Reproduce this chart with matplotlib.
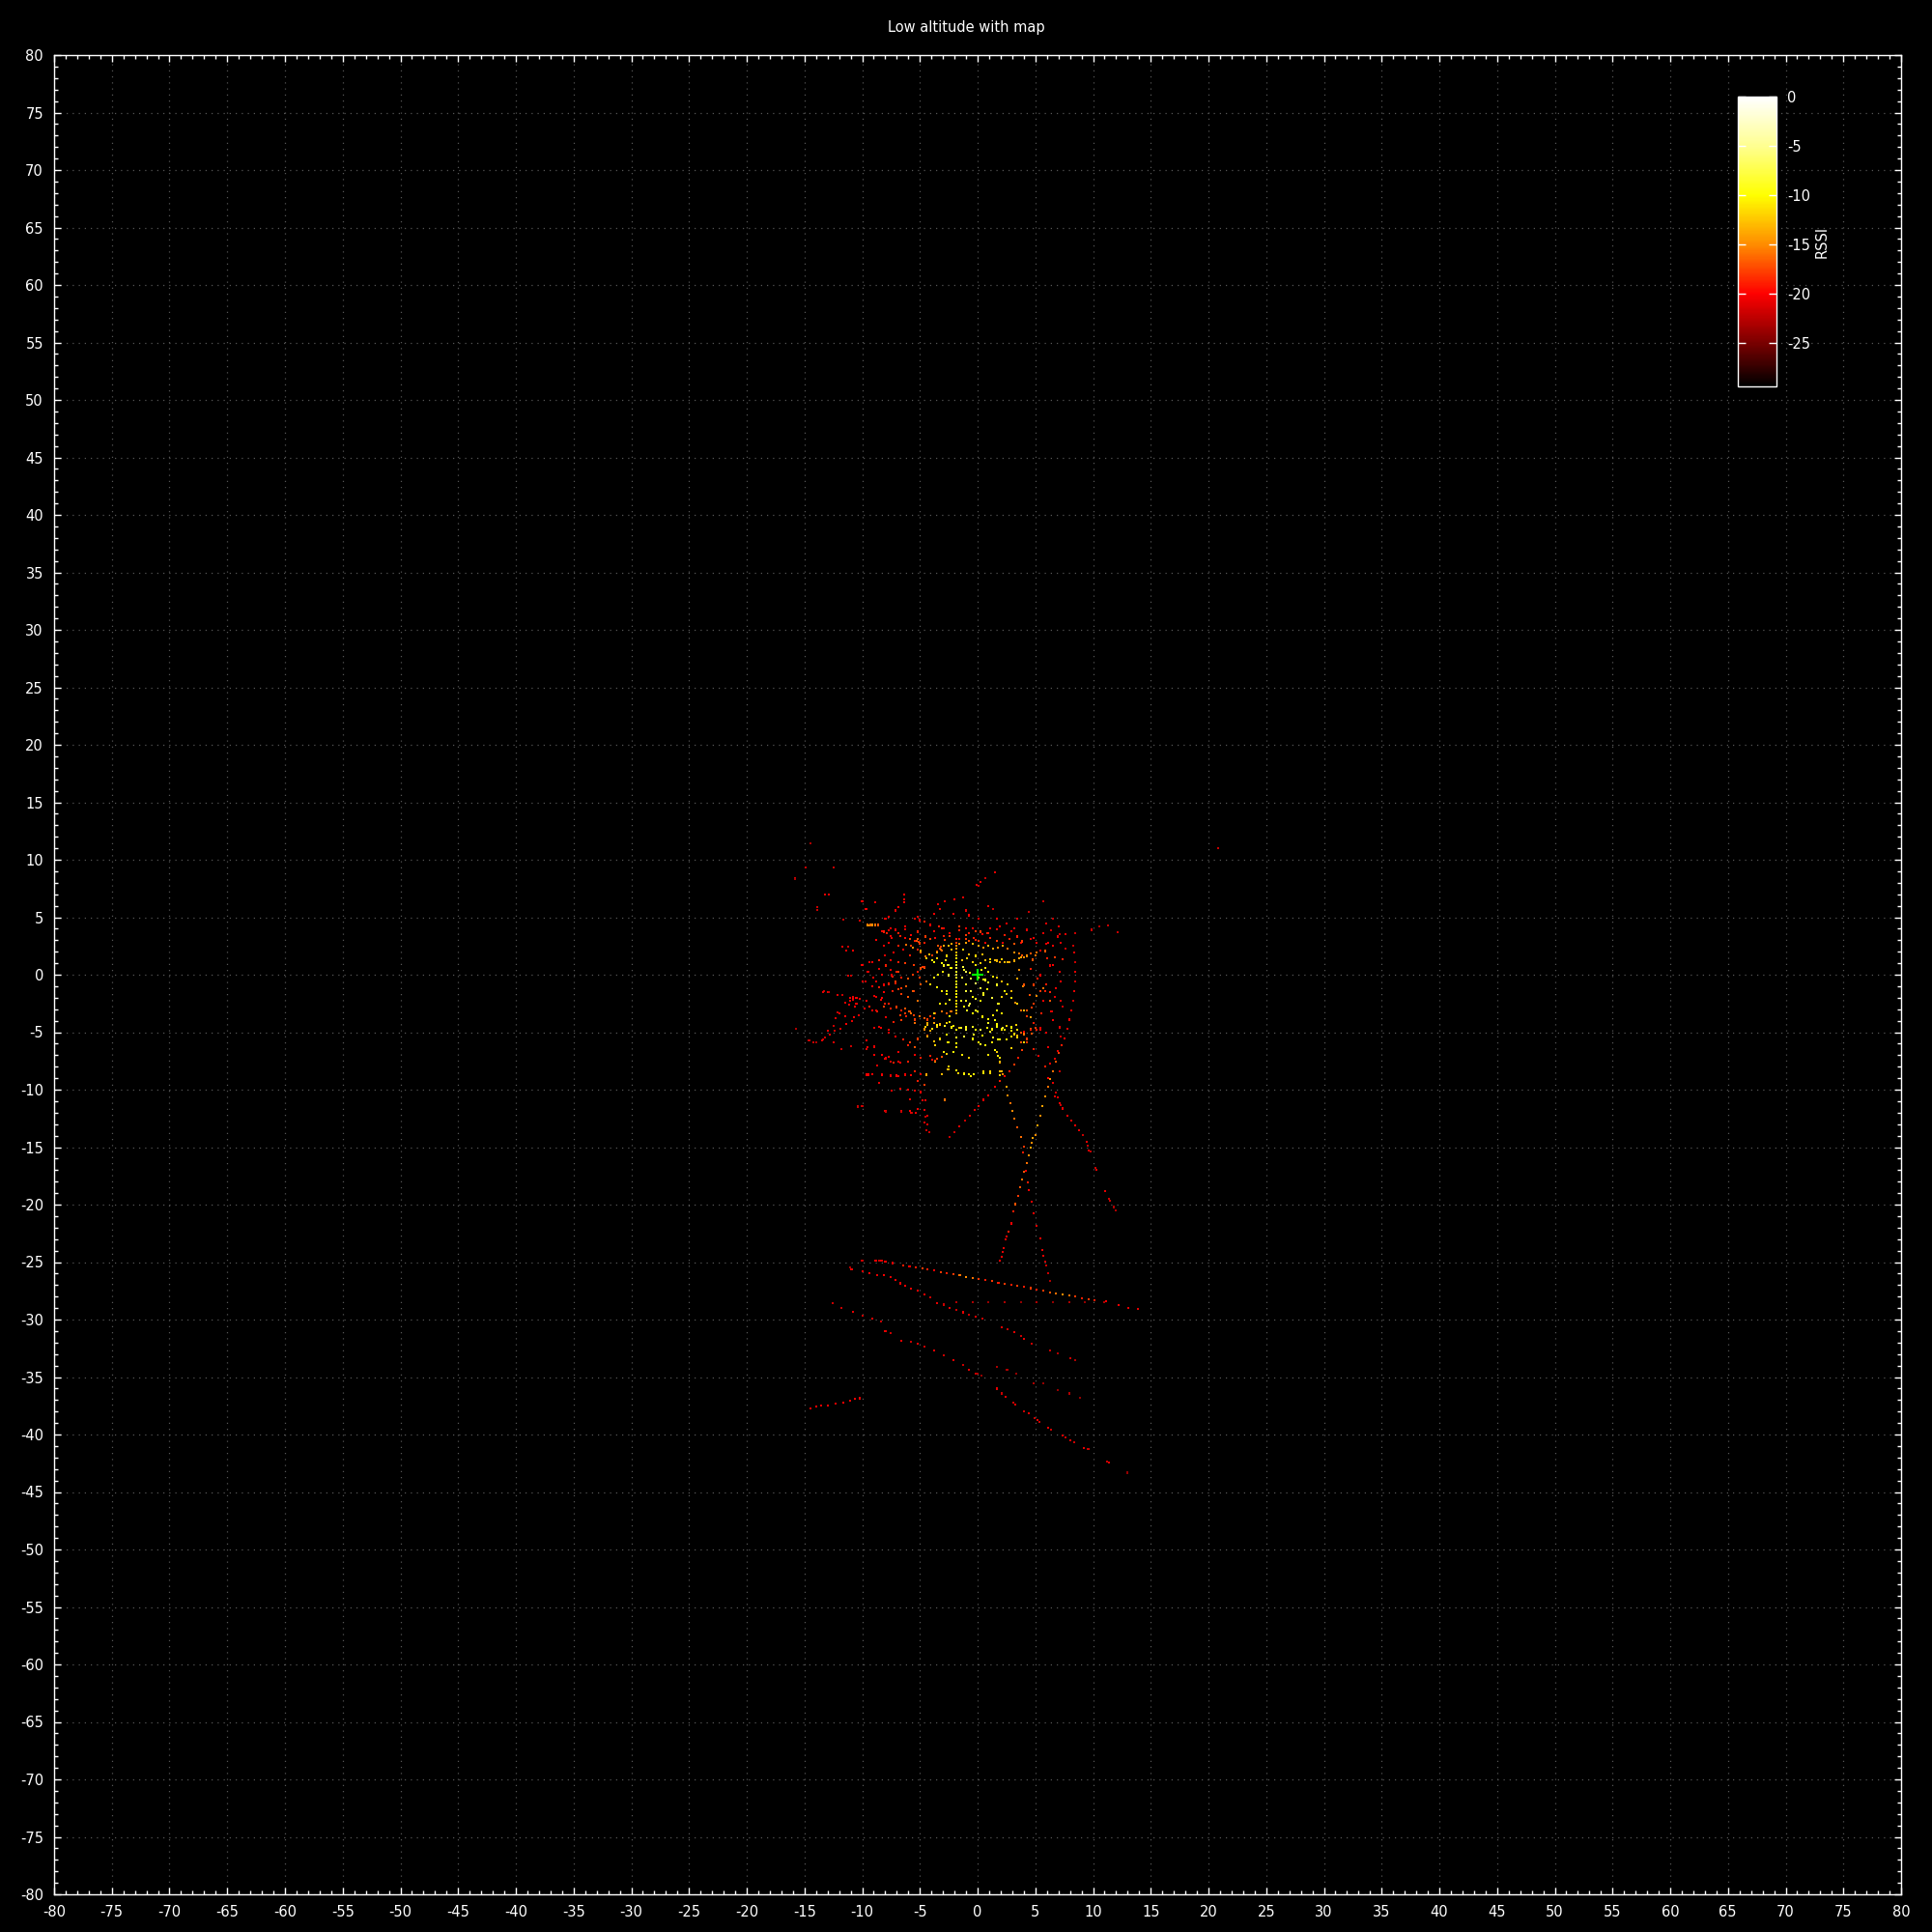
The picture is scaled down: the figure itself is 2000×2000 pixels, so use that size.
import numpy as np
import matplotlib.pyplot as plt
from matplotlib.colors import LinearSegmentedColormap
from matplotlib.ticker import MultipleLocator

plt.rcParams['axes.unicode_minus'] = False

# 采样点 (x, y, rssi)，按区域分组

# 团簇上方的零散点
top_pts = [
    (-15.8, 8.4, -22), (-14.5, 11.4, -23), (-14.9, 9.35, -22), (-12.5, 9.3, -22),
    (-15.8, 8.3, -23), (1.5, 8.9, -21), (0.7, 8.4, -22), (0.25, 8.1, -21),
    (-0.1, 7.8, -21), (0.05, 7.7, -22), (20.8, 11.0, -22),
    (-13.2, 7.0, -21), (-12.9, 7.0, -21), (-13.9, 5.6, -22), (-13.9, 5.85, -22),
    (-11.6, 4.8, -22), (-10.2, 4.7, -21), (-10.05, 6.4, -21), (-9.7, 5.7, -20),
]

# 团簇北侧红色带
north_pts = [
    (-8.27, 3.77, -20), (-7.85, 3.63, -19), (-7.57, 3.35, -20), (-6.73, 3.35, -19),
    (-6.31, 3.21, -20), (-5.89, 3.07, -18), (-5.47, 2.93, -19), (-5.06, 2.79, -17),
    (-4.64, 2.79, -19), (-4.08, 3.07, -18), (-3.66, 3.21, -20), (-2.96, 3.35, -19),
    (-2.40, 3.35, -18), (-1.57, 3.07, -20), (-1.01, 3.07, -18), (-0.73, 2.93, -17),
    (-0.31, 3.21, -19), (0.11, 2.93, -18), (0.67, 2.79, -20), (1.09, 3.21, -19),
    (1.65, 2.93, -18), (2.20, 2.79, -20), (2.76, 3.07, -19), (3.18, 2.65, -17),
    (3.74, 2.79, -20), (4.58, 3.07, -21), (5.13, 2.79, -20), (5.97, 2.65, -21),
    (6.53, 2.51, -20), (7.23, 2.79, -21), (7.65, 2.24, -22),
    (-7.57, 4.05, -20), (-7.15, 3.91, -21), (-6.31, 4.19, -20), (-5.47, 4.89, -21),
    (-5.06, 4.75, -20), (-4.64, 4.61, -19), (-4.08, 4.33, -20), (-3.38, 4.19, -19),
    (-2.96, 4.05, -20), (-1.57, 4.19, -18), (-1.01, 4.05, -20), (-0.73, 3.63, -19),
    (-0.17, 3.77, -18), (0.39, 3.49, -20), (0.81, 3.63, -19), (1.09, 4.05, -21),
    (1.92, 4.19, -20), (3.18, 4.05, -21), (4.30, 3.91, -22), (7.03, 4.19, -21),
    (7.09, 3.49, -22), (7.65, 3.49, -21), (8.49, 3.63, -22), (9.88, 3.91, -22),
    (10.58, 4.19, -23), (11.28, 4.25, -22), (12.1, 3.7, -22),
    (-9.52, 4.33, -16), (-9.30, 4.33, -16), (-9.10, 4.33, -15), (-8.88, 4.33, -16),
    (-8.60, 4.33, -17), (-9.5, 4.3, -15),
    (-9.66, 5.73, -20), (-7.15, 5.59, -21), (-6.87, 5.86, -20), (-5.19, 5.03, -21),
    (-7.71, 5.03, -20), (-7.99, 4.89, -21), (-3.80, 5.31, -20), (-3.24, 5.73, -21),
    (-2.12, 5.31, -20), (-1.01, 5.59, -21), (-0.73, 5.17, -20), (0.11, 4.89, -21),
    (0.95, 6.0, -21), (1.37, 5.73, -22), (1.65, 4.89, -20), (2.48, 4.47, -21),
    (3.46, 4.89, -21), (4.44, 5.45, -22), (5.97, 4.47, -21), (6.53, 4.89, -22),
    (-9.99, 6.42, -20), (-8.88, 6.28, -21), (-6.37, 6.98, -20), (-6.37, 6.56, -21),
    (-6.37, 6.28, -20), (-2.82, 6.42, -21), (-1.98, 6.56, -20), (-1.29, 6.76, -21),
    (-3.46, 6.14, -21), (5.69, 6.42, -22),
]
north_extra = [
    (-8.81, 3.04, -20), (-8.11, 3.74, -19), (-7.70, 3.88, -21), (-7.42, 3.18, -20),
    (-6.86, 3.60, -19), (-6.30, 3.94, -21), (-5.74, 3.46, -20), (-5.19, 3.74, -19),
    (-4.49, 3.32, -18), (-3.79, 3.82, -20), (-3.09, 4.02, -19), (-2.81, 3.04, -18),
    (-2.40, 3.60, -20), (-1.56, 3.88, -19), (-1.0, 3.46, -18), (-0.44, 4.02, -20),
    (-0.16, 3.04, -19), (0.25, 3.74, -18), (0.95, 3.60, -19), (1.65, 3.94, -20),
    (2.35, 3.46, -19), (2.90, 3.82, -20), (3.46, 3.32, -19), (3.88, 2.90, -18),
    (4.30, 3.88, -21), (4.86, 3.18, -20), (5.69, 3.60, -21), (6.11, 2.76, -20),
    (6.39, 3.88, -22), (6.95, 3.32, -21),
    (-5.3, 2.95, -17), (-5.1, 2.85, -18), (-5.19, 3.1, -17), (-5.0, 2.7, -18),
    (-3.3, 2.25, -17), (-3.1, 2.1, -16), (-3.2, 2.4, -18),
    (-4.8, 0.7, -18), (-4.6, 0.55, -17), (-4.9, 0.5, -18),
]

# 团簇西侧红色云
west_pts = [
    (-7.3, 1.96, -20), (-8.0, 1.7, -21), (-8.5, 1.26, -19), (-7.57, 1.26, -20),
    (-6.9, 1.1, -19), (-6.3, 0.98, -18), (-5.5, 0.84, -18), (-4.9, 0.56, -17),
    (-4.6, 0.7, -18), (-5.2, 0.28, -19), (-5.6, 0.0, -18), (-9.4, 1.1, -21),
    (-10.0, 0.84, -20), (-9.5, 0.28, -21), (-9.0, -0.28, -20), (-9.7, -0.55, -21),
    (-9.1, -0.97, -20), (-8.5, -1.11, -19), (-8.1, -1.5, -20), (-8.8, -1.95, -21),
    (-8.4, -2.2, -20), (-8.0, -2.5, -19), (-7.7, -0.8, -19), (-7.15, -0.55, -18),
    (-6.6, -0.28, -19), (-6.2, -0.97, -17), (-6.9, -1.25, -18), (-7.4, -1.4, -19),
    (-6.6, -1.67, -18), (-6.0, -1.95, -17), (-5.5, -1.4, -18), (-4.9, -0.84, -17),
    (-4.4, -0.55, -16), (-5.06, -0.28, -18), (-7.0, 0.28, -19), (-7.57, 0.42, -20),
    (-8.3, 0.0, -20), (-5.89, 1.68, -19), (-6.45, 2.2, -20), (-6.87, 2.51, -19),
    (-7.71, 2.79, -20), (-8.1, 2.51, -21), (-7.4, -0.14, -19), (-4.9, 1.96, -17),
    (-3.9, 1.7, -18), (-3.5, 2.0, -17), (-3.2, 2.2, -16), (-3.4, 2.5, -17),
    (-5.75, 2.5, -18), (-5.2, 2.2, -19), (-4.5, 1.6, -16),
    (-9.94, -0.55, -20), (-10.8, -1.95, -21), (-10.5, -2.51, -20), (-10.2, -2.1, -21),
    (-9.66, -2.23, -20), (-9.4, -2.79, -19), (-9.8, -2.93, -20), (-9.1, -3.07, -20),
    (-8.7, -3.21, -19), (-8.1, -2.79, -18), (-7.57, -2.93, -19), (-7.0, -2.79, -18),
    (-6.6, -3.07, -19), (-6.3, -3.35, -18), (-5.9, -3.21, -17), (-5.5, -3.49, -18),
    (-5.05, -3.6, -16), (-4.64, -3.77, -17), (-4.1, -3.63, -18), (-3.66, -3.35, -17),
    (-3.1, -3.21, -16), (-2.7, -3.35, -17), (-2.3, -3.21, -16), (-4.36, -3.91, -18),
    (-3.8, -3.77, -17), (-5.47, -3.91, -18), (-6.2, -3.6, -19), (-6.73, -3.49, -18),
    (-13.3, -1.4, -22), (-13.0, -1.53, -21), (-12.0, -3.35, -21), (-11.5, -3.63, -20),
    (-11.06, -2.23, -21), (-10.78, -2.12, -20), (-12.5, -4.47, -22), (-13.0, -4.89, -21),
    (-13.4, -5.6, -22), (-12.3, -3.77, -21), (-13.4, -1.5, -21), (-12.9, -1.5, -22),
    (-12.1, -1.8, -21), (-11.7, -1.8, -22), (-11.5, -2.4, -21), (-11.05, -2.0, -20),
    (-10.8, -2.2, -21), (-10.5, -2.0, -20), (-11.1, -2.6, -21), (-10.6, -2.8, -20),
    (-10.3, -3.5, -21), (-10.7, -3.7, -20), (-10.9, -4.0, -21), (-11.4, -4.3, -20),
    (-12.1, -3.3, -22), (-11.9, -4.7, -21), (-12.4, -4.9, -22), (-12.8, -5.2, -21),
    (-13.2, -5.5, -22), (-13.45, -5.7, -21), (-14.2, -5.9, -22), (-14.0, -5.9, -23),
    (-15.7, -4.7, -23), (-11.2, -0.1, -21), (-11.0, -0.1, -22), (-11.7, 2.4, -21),
    (-11.2, 2.4, -22), (-11.4, 2.1, -21), (-10.8, 2.1, -20), (-14.6, -5.7, -22),
    (-11.0, -6.2, -22), (-9.6, -6.5, -21), (-9.6, -5.7, -20),
]
west_extra = [
    (-9.09, 1.08, -20), (-8.53, 0.52, -21), (-7.98, 0.80, -19), (-7.42, -0.04, -20),
    (-6.86, 0.24, -18), (-8.81, -0.6, -21), (-8.11, -0.88, -20), (-7.14, -0.74, -19),
    (-6.58, -1.16, -18), (-6.02, -0.32, -17), (-8.95, -1.86, -21), (-8.25, -2.0, -20),
    (-7.70, -2.56, -19), (-7.0, -2.84, -18), (-6.30, -2.98, -17), (-5.74, -3.40, -16),
    (-8.81, -3.12, -21), (-7.98, -3.68, -20), (-7.28, -4.10, -19), (-6.58, -3.96, -18),
    (-5.46, -4.24, -16), (-8.53, -4.52, -21), (-7.70, -4.80, -20), (-5.19, -2.28, -16),
    (-5.6, -1.44, -17),
]

# 中心黄色区域
core_pts = [
    (-4.4, 1.4, -12), (-3.9, 1.26, -11), (-3.5, 1.4, -12), (-3.1, 0.98, -10),
    (-2.8, 1.26, -11), (-2.55, 0.84, -9), (-2.3, 0.56, -10), (-3.0, 0.28, -11),
    (-3.4, 0.0, -10), (-3.8, -0.28, -11), (-4.1, -0.84, -12), (-3.5, -1.1, -10),
    (-3.1, -1.4, -11), (-2.7, -1.67, -10), (-2.4, -2.2, -9), (-2.8, -2.51, -11),
    (-2.4, -3.6, -10),
    (-1.3, 1.26, -13), (-0.9, 1.4, -12), (-0.45, 1.12, -12), (-0.17, 0.84, -11),
    (0.25, 0.98, -12), (0.67, 1.26, -13), (1.09, 1.12, -12), (1.5, 1.26, -13),
    (1.92, 1.12, -14), (2.34, 1.06, -13), (2.76, 1.12, -14), (3.18, 1.26, -15),
    (3.6, 1.4, -14), (4.0, 1.54, -15), (4.3, 1.68, -16), (4.58, 1.82, -17),
    (5.0, 1.7, -16), (4.8, 1.3, -17),
    (-1.15, 0.42, -9), (-0.7, 0.14, -10), (-1.3, -0.28, -8), (-1.0, -0.84, -9),
    (-0.6, -1.4, -8), (-0.45, -1.95, -10), (-1.0, -2.23, -9), (-0.7, -2.5, -8),
    (-0.17, -2.09, -9), (0.25, -2.23, -10), (0.53, -1.8, -9), (0.8, -1.25, -10),
    (0.95, -0.7, -9), (0.53, -0.4, -10), (0.11, -0.28, -8), (-0.45, 0.0, -9),
    (0.3, 0.42, -10), (0.7, 0.56, -11),
    (-1.15, -2.79, -10), (-0.9, -3.1, -9), (-0.45, -3.35, -10), (0.0, -3.2, -10),
    (0.39, -3.63, -11), (0.95, -3.9, -10), (1.37, -3.49, -11), (1.65, -3.07, -10),
    (1.8, -2.5, -11), (2.06, -1.95, -12), (2.48, -1.67, -12), (2.9, -1.4, -13),
    (2.6, -0.84, -12), (2.06, -0.56, -13), (1.65, -0.28, -12), (1.37, -0.14, -11),
    (0.8, -4.6, -10), (1.23, -4.75, -11), (1.65, -4.33, -10), (2.1, -4.75, -11),
    (2.48, -4.47, -12), (2.9, -4.89, -11), (3.2, -5.17, -12), (3.46, -5.31, -13),
    (2.5, -5.6, -11), (1.8, -5.6, -10), (1.23, -5.86, -11), (0.7, -6.14, -10),
    (0.11, -5.86, -11), (-0.45, -5.59, -10), (-1.01, -4.75, -11), (-1.6, -4.6, -12),
    (-2.12, -4.47, -11), (-2.68, -4.19, -12), (-3.24, -4.33, -13), (-3.8, -4.2, -14),
    (-4.36, -4.33, -13), (-4.64, -4.75, -15), (-4.08, -4.89, -14),
    (-1.85, -6.0, -10), (-2.55, -5.86, -11), (-3.24, -5.59, -12), (-3.66, -6.14, -12),
    (-2.95, -6.7, -11), (-2.12, -6.7, -10), (-1.3, -7.0, -11), (-0.73, -7.26, -12),
    (0.95, -7.0, -11), (1.65, -6.7, -12), (1.92, -7.26, -11), (2.9, -6.42, -12),
    (0.5, -8.4, -12), (1.09, -8.43, -12), (1.92, -8.37, -13), (-0.6, -8.8, -11),
    (-1.15, -8.6, -12), (-1.7, -8.57, -12), (-2.55, -8.2, -13), (-3.1, -8.65, -13),
    (-3.66, -7.54, -14), (-4.4, -8.7, -14),
]
core_extra = [
    (-3.79, 1.08, -10), (-2.95, 0.80, -9), (-2.54, -0.04, -8), (-1.28, 0.66, -8),
    (-1.0, 0.24, -7), (-0.58, -0.32, -8), (-0.16, -0.74, -7), (0.25, -1.16, -8),
    (0.53, -1.58, -9), (-1.0, -1.44, -8), (-1.42, -2.28, -9), (-0.72, -2.70, -8),
    (-0.16, -3.12, -9), (0.39, -3.68, -10), (0.95, -4.24, -9), (1.51, -3.96, -10),
    (2.07, -3.40, -11), (1.79, -2.56, -9), (1.23, -2.0, -8), (0.67, -0.46, -9),
    (0.95, 0.24, -10), (1.65, -0.88, -9), (2.35, -1.44, -10), (2.90, -2.0, -11),
    (3.46, -2.56, -12), (4.02, -3.12, -13), (4.58, -3.68, -14), (-2.68, -1.44, -10),
    (-3.23, -2.56, -11), (-3.79, -3.40, -12), (-4.35, -4.24, -14), (-3.51, -4.52, -12),
    (-2.40, -4.10, -11), (-1.84, -4.80, -10), (-1.0, -4.52, -9), (-0.16, -4.80, -10),
    (2.35, -4.80, -11), (3.32, -4.38, -12), (5.13, -1.86, -15), (5.69, -1.16, -16),
    (6.25, -2.28, -17),
]

# x = -1.85 处的竖线
stem_y = [3.07, 2.79, 2.51, 2.24, 1.96, 1.68, 1.40, 1.12, 0.84, 0.56, 0.28, 0.0,
          -0.28, -0.56, -0.84, -1.11, -1.39, -1.67, -1.95, -2.23, -2.51, -2.79,
          -3.07, -3.35]
stem_rssi = [-19, -18, -15, -14, -13, -12, -11, -10, -9, -8, -9, -8,
             -9, -10, -9, -10, -11, -10, -11, -12, -11, -12, -13, -14]

# 橙色横带
band_pts = [
    (-2.96, 2.51, -14), (-2.54, 2.51, -13), (-2.26, 2.65, -14), (-1.57, 2.65, -15),
    (-1.01, 2.79, -14), (-0.45, 2.65, -13), (0.11, 2.51, -14), (0.53, 2.37, -15),
    (0.95, 2.51, -13), (1.37, 2.24, -14), (1.79, 2.37, -15), (2.2, 2.51, -14),
    (2.62, 2.24, -16), (3.18, 1.96, -15), (3.6, 1.82, -16), (3.88, 1.68, -17),
    (-6.16, 2.62, -16), (-5.6, 2.34, -15), (-4.91, 2.06, -14), (-4.21, 1.78, -13),
    (-3.51, 1.92, -14), (-2.68, 1.64, -12), (-2.26, 2.20, -13), (-1.28, 2.20, -12),
    (-0.72, 1.78, -13), (-0.16, 1.64, -12), (0.39, 1.78, -13), (1.09, 1.36, -12),
    (1.65, 1.22, -13), (2.07, 1.36, -12), (2.62, 1.08, -13), (3.18, 1.22, -14),
    (3.74, 1.50, -14), (4.30, 1.64, -15), (5.13, 1.92, -16), (5.83, 2.06, -17),
    (6.67, 1.50, -18), (7.37, 1.36, -19),
]

# 团簇东侧和南侧
east_pts = [
    (5.41, 2.1, -20), (6.0, 1.4, -19), (6.53, 0.84, -20), (7.09, 0.28, -21),
    (7.23, -0.56, -20), (5.97, -0.84, -19), (5.41, -1.4, -18), (6.25, -1.53, -19),
    (5.69, -2.23, -20), (4.86, -2.51, -18), (4.30, -3.07, -17), (3.74, -3.07, -16),
    (4.30, -3.63, -18), (4.86, -4.19, -19), (5.41, -4.75, -20), (4.58, -4.75, -17),
    (4.02, -5.17, -16), (4.30, -5.59, -18), (3.74, -5.86, -17), (6.7, -1.9, -21),
    (7.4, -2.8, -22), (6.4, -3.2, -21), (5.2, -0.3, -19), (3.9, -1.0, -15),
    (3.4, -0.3, -14), (3.6, 0.4, -15), (4.5, -1.8, -17), (3.3, -2.4, -15),
    (4.58, 0.52, -19), (5.41, -0.04, -20), (6.25, 0.80, -21), (7.09, 0.24, -20),
    (4.86, -0.88, -18), (5.83, -1.44, -19), (6.81, -1.16, -20), (7.23, -2.28, -21),
    (4.72, -2.84, -18), (5.55, -3.40, -19), (6.53, -3.96, -20), (7.09, -4.52, -21),
    (5.13, -4.80, -19), (4.02, -0.88, -17), (3.74, -5.02, -17),
]
south_pts = [
    (-8.0, -7.3, -20), (-7.57, -7.54, -21), (-6.73, -7.68, -20), (-6.0, -7.54, -19),
    (-5.47, -6.98, -20), (-4.92, -7.26, -19), (-3.94, -7.4, -20), (-9.66, -8.65, -21),
    (-9.1, -8.65, -20), (-8.27, -8.65, -21), (-7.57, -8.79, -20), (-6.87, -8.79, -21),
    (-6.31, -8.65, -20), (-5.47, -8.37, -19), (-4.92, -8.65, -20), (-9.52, -6.28, -21),
    (-8.96, -6.98, -20), (-8.27, -6.98, -21), (-6.87, -6.7, -20), (-6.03, -6.14, -19),
    (-5.19, -5.59, -18), (-4.36, -5.31, -17), (-4.92, -10.19, -21), (-4.5, -10.9, -20),
    (-4.36, -12.28, -21), (-4.22, -13.68, -22), (-4.64, -12.84, -21), (-6.59, -11.86, -21),
    (-5.89, -11.86, -20), (-5.19, -11.72, -21), (-7.43, -10.05, -21), (-6.73, -9.91, -20),
    (-10.36, -11.44, -22), (-7.99, -11.86, -21), (-5.7, -12.0, -22), (-4.4, -13.5, -22),
    (-10.0, -11.4, -22), (-12.5, -5.9, -21), (-11.8, -6.5, -22), (-9.6, -8.7, -21),
    (-9.5, -8.7, -20), (-10.35, -11.5, -22),
]
south_extra = [
    (-4.49, -4.52, -12), (-3.93, -4.74, -11), (-3.51, -4.38, -10), (-2.81, -4.46, -9),
    (-2.26, -4.58, -10), (-1.42, -4.66, -9), (-1.0, -4.80, -8), (-0.44, -4.52, -9),
    (0.25, -4.80, -8), (1.09, -4.94, -9), (1.65, -4.52, -10), (2.21, -4.66, -9),
    (2.90, -4.58, -10), (3.46, -4.80, -11), (-2.68, -5.22, -10), (-1.84, -5.50, -9),
    (-1.14, -5.36, -8), (-0.30, -5.22, -9), (0.39, -5.30, -10), (1.37, -5.50, -9),
    (1.93, -5.64, -10), (2.90, -5.36, -11), (3.46, -5.50, -12), (4.02, -5.92, -12),
    (0.25, -6.06, -9), (1.51, -6.54, -10), (-1.84, -6.34, -11), (-2.68, -6.90, -12),
    (-3.79, -5.78, -13), (-4.35, -5.36, -14),
    (-2.54, -7.97, -12), (-1.84, -8.30, -11), (-1.14, -8.64, -10), (-0.72, -8.64, -11),
    (-0.30, -8.64, -10), (0.53, -8.58, -11), (1.09, -8.58, -12), (1.79, -7.04, -11),
    (1.93, -7.6, -12), (2.07, -8.44, -13), (1.93, -8.72, -12),
    (-8.95, -4.66, -21), (-8.39, -4.66, -20), (-7.70, -5.02, -21), (-7.14, -5.36, -20),
    (-6.44, -5.64, -19), (-5.88, -5.92, -18), (-5.46, -6.34, -17), (-8.95, -6.26, -21),
    (-8.25, -6.99, -20), (-7.98, -7.27, -21), (-7.70, -7.18, -20), (-7.28, -7.66, -19),
    (-6.86, -7.6, -20), (-8.67, -7.88, -21), (-8.25, -8.72, -20), (-7.56, -8.78, -21),
    (-7.0, -8.78, -20), (-6.30, -8.72, -21), (-5.74, -8.72, -20), (-5.19, -9.28, -19),
    (-4.63, -9.56, -18), (-4.07, -7.04, -19), (-3.51, -7.32, -18), (-3.09, -7.12, -17),
    (-3.65, -7.46, -18), (-8.53, -9.42, -21), (-6.02, -9.98, -20), (-5.46, -10.12, -21),
    (-4.91, -10.26, -20), (-5.88, -10.82, -21), (-5.19, -11.66, -20), (-4.63, -11.8, -21),
    (-6.58, -11.94, -22), (-5.74, -12.03, -21), (-5.33, -12.03, -20), (-4.77, -10.96, -21),
    (-4.49, -12.36, -22), (-4.35, -13.06, -21), (-7.98, -11.94, -22), (-2.81, -10.88, -16),
    (4.02, -4.94, -20), (4.58, -4.80, -19), (5.41, -4.66, -20), (5.97, -5.08, -21),
    (7.09, -4.66, -21), (7.23, -5.36, -22), (4.86, -6.48, -19), (5.27, -7.04, -20),
    (6.11, -6.34, -21), (6.95, -6.62, -21), (6.25, -7.74, -20), (6.67, -7.32, -21),
    (7.09, -8.44, -22), (6.11, -9.0, -20), (6.53, -9.42, -21), (5.83, -8.02, -19),
    (6.81, -10.26, -22), (7.23, -11.38, -22), (7.37, -11.66, -21), (6.95, -10.68, -21),
]

# 团簇下方的航迹
track_ne = [
    (-2.40, -14.10, -22), (-1.98, -13.68, -22), (-1.57, -13.17, -21), (-1.09, -12.70, -22),
    (-0.67, -12.23, -21), (-0.25, -11.78, -21), (0.05, -11.44, -20), (0.53, -10.88, -21),
    (0.95, -10.47, -20), (1.51, -9.77, -20), (1.92, -9.27, -19), (2.34, -8.79, -20),
    (2.76, -8.37, -19), (3.18, -7.81, -18), (3.52, -7.26, -19), (3.88, -6.56, -18),
    (4.30, -5.86, -18), (4.72, -5.16, -17), (4.99, -4.60, -18),
]
track_v1 = [
    (1.92, -7.68, -14), (2.20, -8.65, -15), (2.48, -9.77, -14), (2.62, -10.47, -15),
    (2.82, -11.16, -16), (2.99, -11.86, -15), (3.18, -12.56, -16), (3.46, -13.26, -17),
    (3.74, -14.10, -16), (4.02, -14.93, -18),
    (3.96, -15.44, -19), (4.21, -17.03, -20), (4.35, -18.09, -19), (4.46, -18.71, -20),
    (4.71, -19.74, -21), (4.85, -20.72, -20), (5.13, -21.83, -21), (5.41, -22.98, -20),
    (5.64, -23.96, -21), (5.89, -24.99, -22), (5.69, -24.42, -21), (5.97, -25.26, -22),
    (6.11, -25.96, -22), (6.25, -26.66, -23),
]
track_v2 = [
    (8.26, 2.51, -22), (8.35, 1.96, -21), (8.43, 1.12, -22), (8.49, 0.28, -21),
    (8.43, -0.56, -22), (8.35, -1.39, -21), (8.26, -2.23, -22), (8.15, -3.07, -21),
    (7.98, -3.91, -20), (7.79, -4.74, -21), (7.51, -5.58, -20), (7.31, -6.14, -19),
    (7.03, -6.84, -18), (6.81, -7.54, -17), (6.53, -8.37, -16), (6.31, -9.07, -15),
    (6.11, -9.77, -16), (5.83, -10.61, -15), (5.64, -11.44, -14), (5.41, -12.28, -15),
    (5.22, -13.12, -14), (4.99, -13.96, -15), (4.80, -14.24, -14), (4.71, -14.66, -15),
    (4.63, -15.02, -14), (4.46, -15.69, -15), (4.27, -16.36, -16), (4.02, -17.12, -17),
    (3.85, -17.81, -16), (3.68, -18.48, -17), (3.51, -19.21, -18), (3.29, -19.96, -17),
    (3.12, -20.61, -19), (2.90, -21.64, -20), (2.68, -22.34, -19), (2.42, -23.06, -20),
    (2.26, -23.79, -21), (2.09, -24.51, -20), (1.95, -24.85, -21), (2.54, -22.75, -20),
    (2.20, -24.15, -21), (1.92, -24.84, -20),
]
track_se = [
    (6.67, -10.61, -21), (7.09, -11.16, -20), (7.37, -11.6, -21), (7.79, -12.28, -20),
    (8.1, -12.7, -21), (8.49, -13.12, -20), (8.8, -13.5, -21), (9.10, -13.96, -22),
    (9.46, -14.52, -21), (9.82, -15.35, -22), (9.52, -14.88, -22), (9.66, -15.27, -21),
    (10.24, -16.81, -22), (10.26, -16.98, -21), (11.05, -18.79, -21), (11.41, -19.46, -22),
    (11.5, -19.66, -22), (11.83, -20.21, -23), (12.0, -20.47, -23),
]
track_sw = [
    (-8.83, -24.85, -21), (-8.5, -24.9, -22), (-8.3, -24.9, -21), (-7.93, -24.99, -22),
    (-7.35, -25.08, -22), (-10.0, -24.9, -22), (-11.05, -25.5, -23),
]

# 南面的几条长航迹
line_a = [
    (-8.82, -24.84, -20), (-8.4, -24.9, -21), (-7.99, -24.98, -20), (-7.4, -25.1, -21),
    (-6.45, -25.29, -19), (-5.9, -25.37, -20), (-5.33, -25.46, -19), (-4.8, -25.55, -18),
    (-4.36, -25.63, -19), (-3.8, -25.75, -20), (-3.18, -25.88, -18), (-2.65, -25.95, -19),
    (-2.12, -26.02, -18), (-1.55, -26.15, -16), (-1.01, -26.27, -15), (-0.45, -26.37, -16),
    (0.11, -26.46, -18), (0.67, -26.56, -19), (1.23, -26.66, -18), (1.8, -26.78, -19),
    (2.34, -26.88, -18), (2.9, -26.98, -19), (3.46, -27.08, -18), (4.02, -27.18, -19),
    (4.58, -27.27, -18), (5.13, -27.39, -19), (5.69, -27.50, -18), (6.25, -27.61, -17),
    (6.81, -27.72, -16), (7.37, -27.8, -15), (7.93, -27.89, -16), (8.49, -28.0, -18),
    (9.04, -28.14, -19), (9.6, -28.24, -18), (10.16, -28.33, -19), (11.14, -28.44, -20),
    (12.25, -28.75, -20), (13.09, -28.98, -21), (13.93, -29.09, -21),
]
line_b = [
    (-10.92, -25.63, -21), (-9.94, -25.82, -21), (-9.4, -25.96, -20), (-8.68, -26.10, -21),
    (-8.1, -26.16, -20), (-7.57, -26.32, -21), (-7.15, -26.52, -20), (-6.73, -26.85, -21),
    (-6.31, -27.08, -20), (-5.75, -27.30, -21), (-5.2, -27.5, -20), (-4.64, -27.83, -21),
    (-4.08, -28.05, -22), (-3.52, -28.56, -21), (-2.96, -28.7, -22), (-2.40, -28.97, -21),
    (-1.85, -29.17, -22), (-1.29, -29.37, -21), (-0.73, -29.59, -22), (-0.17, -29.73, -21),
    (0.39, -29.92, -22),
    (-1.85, -28.47, -23), (-0.45, -28.47, -23), (0.95, -28.47, -24), (2.34, -28.47, -23),
    (3.74, -28.47, -24), (5.13, -28.47, -23), (6.53, -28.47, -24), (7.93, -28.47, -23),
    (9.32, -28.47, -24), (11.0, -28.47, -23),
]
line_c = [
    (-12.59, -28.61, -22), (-11.76, -28.97, -22), (-10.78, -29.31, -21), (-9.94, -29.67, -22),
    (-9.10, -29.92, -21), (-8.4, -30.15, -22), (-7.99, -30.98, -21), (-7.57, -31.2, -22),
    (-6.59, -31.82, -21), (-5.75, -31.96, -22), (-5.2, -32.1, -21), (-4.64, -32.38, -22),
    (-3.8, -32.7, -21), (-2.96, -33.07, -22), (-2.12, -33.50, -21), (-1.29, -33.92, -22),
    (-0.73, -34.34, -21), (-0.17, -34.67, -22),
]
line_d = [
    (2.06, -30.71, -21), (2.62, -30.85, -22), (3.18, -31.13, -21), (3.74, -31.41, -22),
    (4.02, -31.68, -21), (4.72, -32.10, -22), (6.25, -32.66, -22), (6.95, -32.94, -23),
    (8.07, -33.36, -22), (8.49, -33.55, -23), (1.65, -34.11, -23), (2.55, -34.4, -23),
    (3.37, -34.67, -24), (4.86, -35.51, -23), (5.69, -35.51, -24), (6.95, -36.1, -24),
    (7.93, -36.43, -23), (8.9, -36.8, -24), (0.0, -34.67, -23), (0.3, -34.9, -24),
]
line_e = [
    (1.70, -36.01, -21), (2.12, -36.43, -22), (2.46, -36.71, -21), (3.13, -37.21, -22),
    (3.27, -37.38, -21), (4.05, -37.96, -22), (4.47, -38.19, -21), (4.97, -38.58, -22),
    (5.19, -38.72, -21), (5.36, -38.89, -22), (6.14, -39.39, -21), (6.39, -39.56, -22),
    (7.40, -40.06, -21), (7.65, -40.23, -22), (8.07, -40.48, -21), (8.40, -40.64, -22),
    (9.24, -41.15, -21), (9.58, -41.29, -22), (11.25, -42.35, -22), (11.42, -42.40, -21),
    (13.01, -43.32, -24),
]
line_w = [
    (-14.5, -37.75, -21), (-14.0, -37.6, -20), (-13.57, -37.46, -21), (-13.0, -37.46, -20),
    (-12.31, -37.35, -21), (-11.6, -37.21, -20), (-11.06, -37.07, -21), (-10.64, -36.93, -20),
    (-10.22, -36.85, -21),
]

groups = [top_pts, north_pts, north_extra, west_pts, west_extra, core_pts, core_extra,
          band_pts, east_pts, south_pts, south_extra,
          track_ne, track_v1, track_v2, track_se, track_sw,
          line_a, line_b, line_c, line_d, line_e, line_w]
pts = np.array([p for g in groups for p in g], dtype=float)
xs = np.concatenate([pts[:, 0], np.full(len(stem_y), -1.85)])
ys = np.concatenate([pts[:, 1], stem_y])
rs = np.concatenate([pts[:, 2], stem_rssi])

# 黑-红-橙-黄-白 调色板
cmin, cmax = -29.4, 0.0
def pos(v):
    return (v - cmin) / (cmax - cmin)
cmap = LinearSegmentedColormap.from_list('rssi', [
    (0.0, '#000000'),
    (pos(-25), '#7a0000'),
    (pos(-20), '#ff0000'),
    (pos(-15), '#ff8c00'),
    (pos(-10), '#ffff00'),
    (pos(-5), '#ffff90'),
    (1.0, '#ffffff'),
])

fg = 'white'
fig = plt.figure(figsize=(20, 20), dpi=100, facecolor='black')
ax = fig.add_axes([0.028, 0.0195, 0.956, 0.952], facecolor='black')

sc = ax.scatter(xs, ys, c=rs, cmap=cmap, vmin=cmin, vmax=cmax,
                s=2.2, marker='s', linewidths=0, zorder=3)
# 原点标记
ax.plot([0], [0], marker='+', color='#00ff00', markersize=9, mew=1.5, zorder=4)

ax.set_xlim(-80, 80)
ax.set_ylim(-80, 80)
ax.xaxis.set_major_locator(MultipleLocator(5))
ax.yaxis.set_major_locator(MultipleLocator(5))
ax.xaxis.set_minor_locator(MultipleLocator(1))
ax.yaxis.set_minor_locator(MultipleLocator(1))
ax.tick_params(which='both', direction='in', top=True, right=True, colors=fg,
               labelsize=10.5, width=1)
ax.tick_params(which='major', length=5, pad=8)
ax.tick_params(which='minor', length=3)
for sp in ax.spines.values():
    sp.set_color(fg)
    sp.set_linewidth(1)
ax.grid(True, which='major', color='#555555', linestyle=(0, (1, 4)), linewidth=0.9)
ax.set_axisbelow(True)

fig.text(0.5, 1 - 28 / 2000, 'Low altitude with map', color=fg, fontsize=10.5,
         ha='center', va='center')

# 色标
cax = fig.add_axes([0.8995, 0.80, 0.02, 0.15])
cb = fig.colorbar(sc, cax=cax)
cb.set_ticks([0, -5, -10, -15, -20, -25])
cb.ax.tick_params(direction='in', left=True, right=True, colors=fg, length=5.5,
                  labelsize=10.5, width=1, pad=8)
cb.outline.set_edgecolor(fg)
cb.outline.set_linewidth(1)
fig.text(1886 / 2000, 1 - 250 / 2000, 'RSSI', color=fg, fontsize=10.5,
         rotation=90, ha='center', va='center')

fig.savefig('out.png', dpi=100, facecolor='black')
